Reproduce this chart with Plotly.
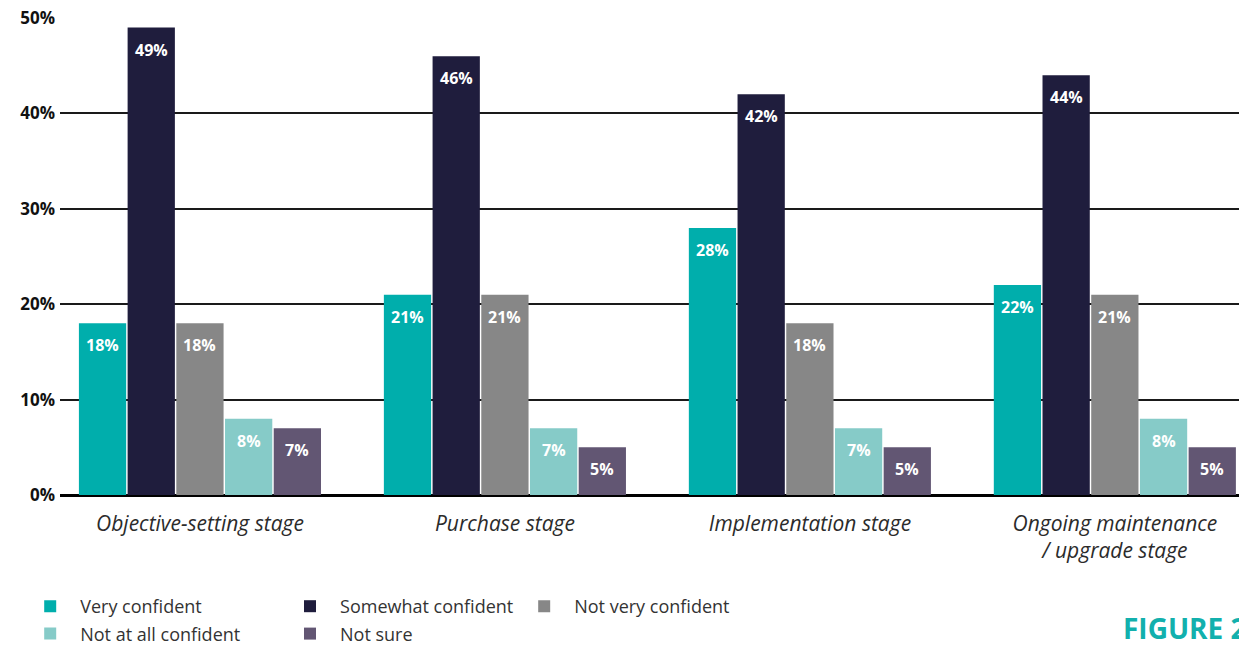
import plotly.graph_objects as go

# Survey results: confidence by stage
stages = ["Objective-setting stage", "Purchase stage", "Implementation stage",
          "Ongoing maintenance<br>/ upgrade stage"]
series_names = ["Very confident", "Somewhat confident", "Not very confident",
                "Not at all confident", "Not sure"]
very_confident = [18, 21, 28, 22]
somewhat_confident = [49, 46, 42, 44]
not_very_confident = [18, 21, 18, 21]
not_at_all_confident = [8, 7, 7, 8]
not_sure = [7, 5, 5, 5]
y_ticks = [0, 10, 20, 30, 40, 50]

series_values = [very_confident, somewhat_confident, not_very_confident,
                 not_at_all_confident, not_sure]
colors = ["#00AEAC", "#1F1D3D", "#878787", "#86CBC8", "#625673"]
legend_ids = ["legend", "legend2", "legend3", "legend", "legend2"]

# bar geometry within each category slot
bar_pitch = 0.1597
bar_width = 0.155
first_offset = -0.397

W, H = 1239, 646
ml, mr, mt, mb = 60, 0, 18, 151
pw, ph = W - ml - mr, H - mt - mb

fig = go.Figure()
annotations = []
for k, (name, vals, col, lg) in enumerate(zip(series_names, series_values, colors, legend_ids)):
    off = first_offset + k * bar_pitch
    fig.add_trace(go.Bar(
        x=list(range(len(stages))), y=vals, name=name,
        marker=dict(color=col, line=dict(width=0)),
        width=bar_width, offset=off,
        legend=lg, legendgroup=name,
    ))
    for i, v in enumerate(vals):
        annotations.append(dict(
            x=i + off + bar_width / 2, y=v, xref="x", yref="y",
            text=f"<b>{v}%</b>", showarrow=False, yanchor="middle",
            yshift=-22, font=dict(color="white", size=16, family="Open Sans")))

# figure tag in the lower right corner (runs off the right edge)
annotations.append(dict(
    x=(1121 - ml) / pw, y=(H - mb - 628) / ph, xref="paper", yref="paper",
    text="<b>FIGURE 2</b>", showarrow=False, xanchor="left", yanchor="middle",
    font=dict(color="#12B0AD", size=28, family="Open Sans")))

legend_font = dict(size=18, color="#333333", family="Open Sans")
common_legend = dict(orientation="v", xref="container", yref="container",
                     xanchor="left", yanchor="top", font=legend_font,
                     bgcolor="rgba(0,0,0,0)", tracegroupgap=1, itemwidth=50)

fig.update_layout(
    width=W, height=H,
    margin=dict(l=ml, r=mr, t=mt, b=mb, autoexpand=False),
    plot_bgcolor="white", paper_bgcolor="white",
    barmode="overlay",
    font=dict(family="Open Sans", color="#222222"),
    xaxis=dict(
        range=[-0.459, 3.407], tickmode="array",
        tickvals=list(range(len(stages))), ticktext=stages, tickangle=0,
        tickfont=dict(size=21, color="#2b2b2b", family="Open Sans", style="italic"),
        showgrid=False, zeroline=False, ticks="", ticklabelstandoff=14,
        automargin=False,
    ),
    yaxis=dict(
        range=[0, 50], tickvals=y_ticks, ticktext=[f"<b>{t}%</b>" for t in y_ticks],
        tickfont=dict(size=17, color="#111111", family="Open Sans"),
        showgrid=True, gridcolor="#1a1a1a", gridwidth=1.5,
        zeroline=True, zerolinecolor="#000000", zerolinewidth=3,
        ticks="", ticklabelstandoff=4, automargin=False,
    ),
    legend=dict(common_legend, x=0.0163, y=1 - 588 / H),
    legend2=dict(common_legend, x=0.226, y=1 - 588 / H),
    legend3=dict(common_legend, x=0.415, y=1 - 588 / H),
    annotations=annotations,
    showlegend=True,
)

fig.write_html("out.html")
